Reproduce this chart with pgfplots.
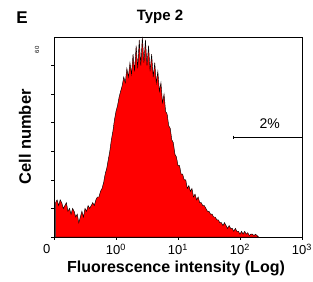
\documentclass[border=0pt]{standalone}
\usepackage{fontspec}
\setmainfont{Liberation Sans}
\usepackage{pgfplots}
\pgfplotsset{compat=1.18}
\begin{document}
\begin{tikzpicture}
\path[use as bounding box] (-54bp,-45bp) rectangle (259bp,237bp);
\begin{axis}[
  scale only axis, width=248bp, height=200bp,
  at={(0,0)}, anchor=south west,
  xmin=-1, xmax=3, ymin=0, ymax=70,
  axis line style={black, line width=0.8pt},
  xtick={-1,0,1,2,3},
  xticklabels={0\hphantom{0}\hphantom{0}, 10\textsuperscript{0}, 10\textsuperscript{1}, 10\textsuperscript{2}, 10\textsuperscript{3}},
  ytick={0,10,20,30,40,50,60},
  yticklabels={},
  tick align=outside, tick pos=left,
  major tick length=2.5bp,
  tick style={black, line width=0.6pt},
  xticklabel style={font=\fontsize{13bp}{14bp}\selectfont, yshift=-1bp},
  /pgf/number format/assume math mode=true,
  clip=false,
]
\addplot[fill=red, draw=black, line width=0.45pt] coordinates {
(-0.975,12) (-0.95,13) (-0.925,11) (-0.9,13) (-0.875,12) (-0.85,10) (-0.825,11) (-0.8,12)
(-0.775,9) (-0.75,10) (-0.725,8) (-0.7,10) (-0.675,9) (-0.65,7) (-0.625,8) (-0.6,5)
(-0.575,7) (-0.55,9) (-0.525,7) (-0.5,10) (-0.475,9) (-0.45,11) (-0.425,10) (-0.4,11)
(-0.375,12) (-0.35,11) (-0.325,13) (-0.3,14) (-0.275,14) (-0.25,16) (-0.225,17) (-0.2,19)
(-0.175,22) (-0.15,24) (-0.125,27) (-0.1,30) (-0.075,34) (-0.05,37) (-0.025,41) (0,44)
(0.025,46) (0.05,49) (0.075,51) (0.1,53) (0.125,56) (0.15,54) (0.175,59) (0.2,56)
(0.225,61) (0.25,57) (0.275,64) (0.3,58) (0.325,67) (0.35,59) (0.375,69) (0.4,60)
(0.425,70) (0.45,61) (0.475,69) (0.5,60) (0.525,67) (0.55,58) (0.575,64) (0.6,56)
(0.625,61) (0.65,54) (0.675,58) (0.7,51) (0.725,54) (0.75,47) (0.775,50) (0.8,44)
(0.825,43) (0.85,39) (0.875,38) (0.9,34) (0.925,33) (0.95,29) (0.975,28) (1.0,25)
(1.025,25) (1.05,22) (1.075,22) (1.1,20) (1.125,20) (1.15,17) (1.175,18) (1.2,16)
(1.225,17) (1.25,14) (1.275,15) (1.3,13) (1.325,14) (1.35,12) (1.375,12) (1.4,11)
(1.425,11) (1.45,10) (1.475,9) (1.5,9) (1.525,8) (1.55,8) (1.575,7) (1.6,7)
(1.625,6) (1.65,6) (1.675,5) (1.7,5) (1.725,4) (1.75,5) (1.775,4) (1.8,3)
(1.825,4) (1.85,3) (1.875,3) (1.9,2) (1.925,3) (1.95,2) (1.975,2) (2.0,1)
(2.025,2) (2.05,1) (2.075,2) (2.1,1) (2.125,1.5) (2.15,0.5) (2.175,1) (2.2,1)
(2.225,0.5) (2.25,1) (2.275,0.5) (2.3,0)
} \closedcycle;
\addplot[black, line width=0.6pt, mark=|, mark size=1.5bp, mark indices={1}] coordinates {(1.89,35) (3,35)};
\node[font=\fontsize{14bp}{16bp}\selectfont] at (axis cs:2.48,39.5) {2\%};
\end{axis}
\node[font=\bfseries\fontsize{15bp}{17bp}\selectfont] at (106bp,220bp) {Type 2};
\node[font=\bfseries\fontsize{17bp}{19bp}\selectfont] at (-32bp,219bp) {E};
\node[font=\bfseries\fontsize{16bp}{18bp}\selectfont] at (122bp,-31bp) {Fluorescence intensity (Log)};
\node[font=\bfseries\fontsize{16.5bp}{18bp}\selectfont, rotate=90] at (-29bp,100bp) {Cell number};
\node[font=\fontsize{6bp}{7bp}\selectfont, rotate=90] at (-17bp,187bp) {60};
\end{tikzpicture}
\end{document}
